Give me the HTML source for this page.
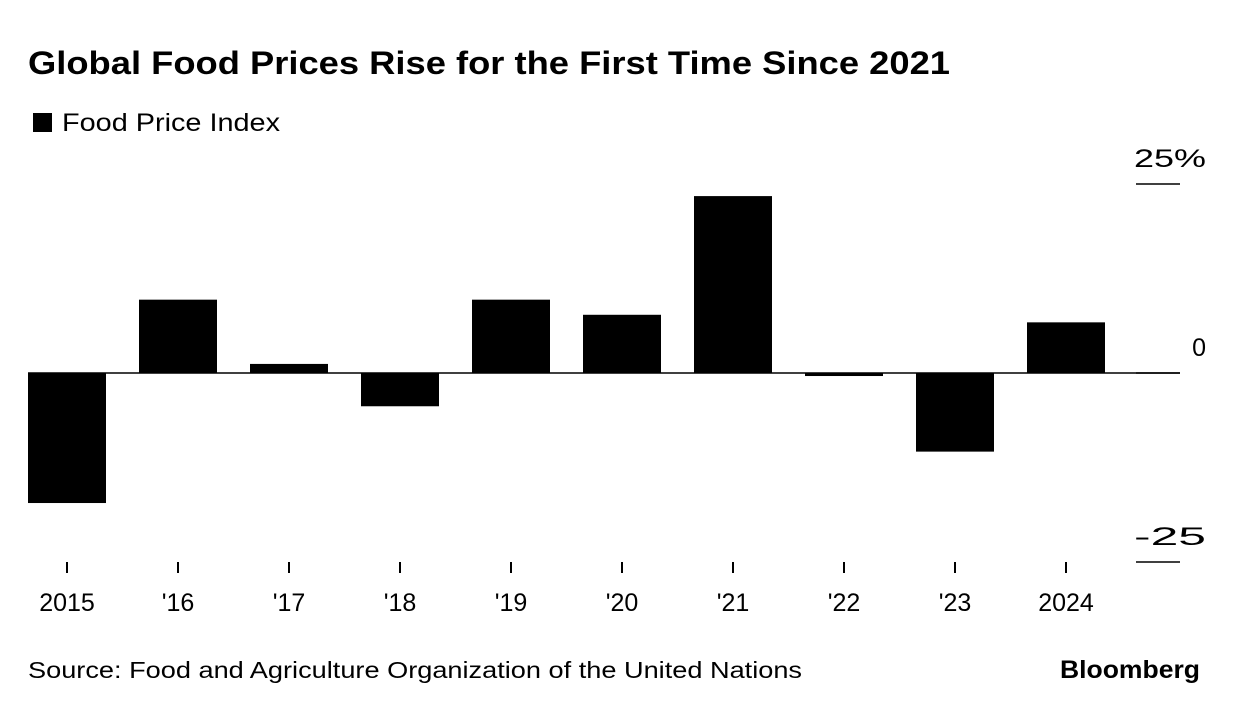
<!DOCTYPE html>
<html><head><meta charset="utf-8"><style>
body{margin:0;background:#fff;font-family:"Liberation Sans",sans-serif;}
#wrap{position:relative;width:1240px;height:728px;overflow:hidden;}
</style></head><body>
<div id="wrap">
<svg id="chart" width="1240" height="728">
<text x="28" y="74" font-size="32" font-weight="bold" fill="#000" font-family="Liberation Sans, sans-serif" textLength="922" lengthAdjust="spacingAndGlyphs">Global Food Prices Rise for the First Time Since 2021</text>
<rect x="33" y="113" width="19" height="19" fill="#000"/>
<text x="62" y="131" font-size="25" fill="#000" font-family="Liberation Sans, sans-serif" textLength="218" lengthAdjust="spacingAndGlyphs">Food Price Index</text>
<text x="28" y="678" font-size="23" fill="#000" font-family="Liberation Sans, sans-serif" textLength="774" lengthAdjust="spacingAndGlyphs">Source: Food and Agriculture Organization of the United Nations</text>
<text x="1200" y="678" font-size="25" font-weight="bold" text-anchor="end" fill="#000" font-family="Liberation Sans, sans-serif" textLength="140" lengthAdjust="spacingAndGlyphs">Bloomberg</text>
<g id="plot"></g>
</svg>
</div>
<script>
const categories=["2015","'16","'17","'18","'19","'20","'21","'22","'23","2024"];
const values=[-17.2,9.7,1.2,-4.4,9.7,7.7,23.4,-0.4,-10.4,6.7];
const yTicks=[25,0,-25];
const yTickLabels=["25%","0","-25"];
const NS="http://www.w3.org/2000/svg";
const g=document.getElementById('plot');
const y=v=>373-v*7.56;
const xc=i=>67+i*111;
function mk(t,a){const e=document.createElementNS(NS,t);for(const k in a)e.setAttribute(k,a[k]);g.appendChild(e);return e;}
values.forEach((v,i)=>{
 const r=mk('rect',{x:xc(i)-39,y:Math.min(y(v),y(0)),width:78,height:Math.abs(y(v)-y(0)),fill:'#000'});
 
 
 const t=mk('line',{x1:xc(i),x2:xc(i),y1:562,y2:573,stroke:'#000','stroke-width':2});
 
 
 const l=mk('text',{x:xc(i),y:611,'font-size':25,'text-anchor':'middle',fill:'#000','font-family':'Liberation Sans, sans-serif'});
 l.textContent=categories[i];
 
 
});
const z=mk('line',{x1:28,x2:1180,y1:y(0),y2:y(0),stroke:'#000','stroke-width':1.5});


yTicks.forEach((v,i)=>{
 const t=mk('line',{x1:1136,x2:1180,y1:y(v),y2:y(v),stroke:'#000','stroke-width':1.5});
 
 
 const l=mk('text',{x:1206,y:y(v)-17,'font-size':25,'text-anchor':'end',fill:'#000','font-family':'Liberation Sans, sans-serif'});
 l.textContent=yTickLabels[i];
 if(yTickLabels[i].length>1){l.setAttribute('textLength',yTickLabels[i].length*24);l.setAttribute('lengthAdjust','spacingAndGlyphs');}
 
 
});
</script>
</body></html>
